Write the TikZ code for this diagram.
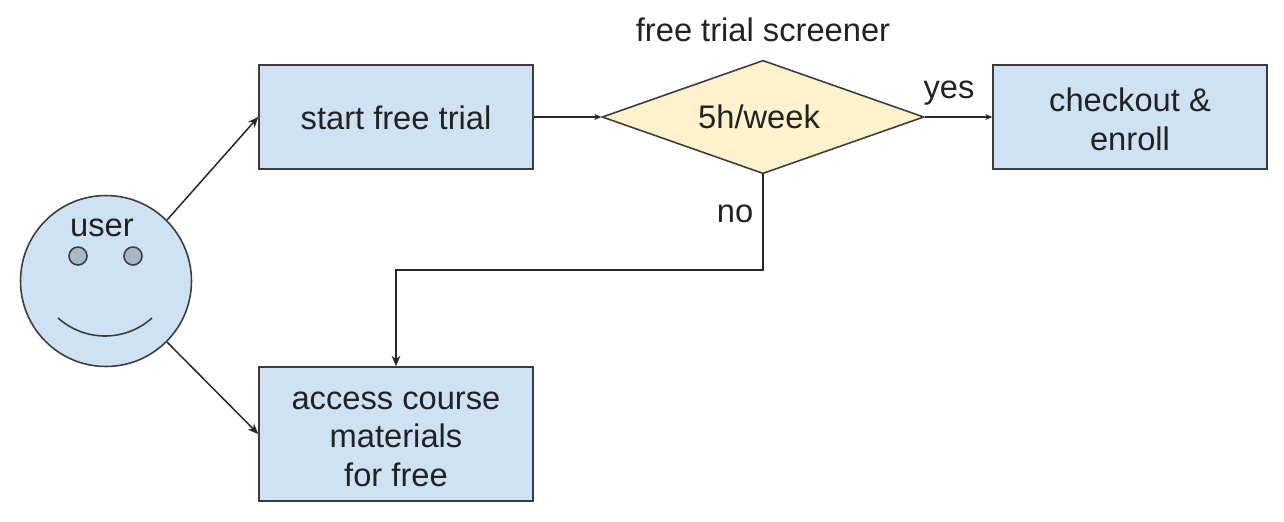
\documentclass[tikz,border=0pt]{standalone}
\usepackage{fontspec}
\setmainfont{Liberation Sans}
\usetikzlibrary{shapes.geometric, arrows.meta}
\definecolor{boxblue}{HTML}{CFE2F3}
\definecolor{boxyellow}{HTML}{FFF2CC}
\definecolor{eyegray}{HTML}{A9B8C8}
\definecolor{edgegray}{HTML}{3C3C3C}
\definecolor{textdark}{HTML}{222222}
\tikzset{
    label text/.style={font=\fontsize{18.6}{22}\selectfont, text=textdark, align=center, inner sep=0pt},
    step box/.style={rectangle, draw=edgegray, line width=0.9pt, fill=boxblue, minimum width=5.48cm, label text},
    link/.style={line width=0.85pt, color=black!85, -{Stealth[length=6pt, width=5pt]}},
    small link/.style={line width=0.85pt, color=black!85, -{Stealth[length=4pt, width=3.5pt]}}
}

\begin{document}
\begin{tikzpicture}[x=0.02cm, y=-0.02cm]
    \useasboundingbox (0,0) rectangle (1284,521);

    % User face
    \node[circle, draw=edgegray, line width=0.9pt, fill=boxblue, minimum size=3.42cm, inner sep=0pt] (user) at (106,281) {};
    \node[label text] (usertext) at (102,228) {user};
    \node[circle, draw=edgegray, line width=0.9pt, fill=eyegray, minimum size=0.36cm, inner sep=0pt] (eyeL) at (78,256) {};
    \node[circle, draw=edgegray, line width=0.9pt, fill=eyegray, minimum size=0.36cm, inner sep=0pt] (eyeR) at (133,256) {};
    \draw[line width=0.9pt, edgegray] (58,318) .. controls (85,342) and (125,342) .. (152,318);

    % Steps
    \node[step box, minimum height=2.08cm] (trial) at (396,117) {\rule{0pt}{14pt}start free trial};
    \node[step box, minimum height=2.08cm] (enroll) at (1130,117) {\rule{0pt}{16pt}checkout \&\\enroll};
    \node[step box, minimum height=2.68cm] (access) at (396,434) {\rule{0pt}{16pt}access course\\materials\\for free};

    % Screener
    \node[diamond, shape aspect=1.45, draw=edgegray, line width=0.9pt, fill=boxyellow, minimum width=6.44cm, label text] (screener) at (763,117) {5h/week\rule{4.5pt}{0pt}};
    \node[label text] (screenertext) at (763,30) {free trial screener};
    \node[label text] (yes) at (949,93) {yes};
    \node[label text] (no) at (735,214) {no};

    % Connectors
    \coordinate (bend) at (396,270);
    \draw[link] (user.45) -- (trial.west);
    \draw[link] (user.-45) -- (access.west);
    \draw[small link] (trial.east) -- (screener.west);
    \draw[small link] (screener.east) -- (enroll.west);
    \draw[link] (screener.south) |- (bend) -- (access.north);
\end{tikzpicture}
\end{document}
